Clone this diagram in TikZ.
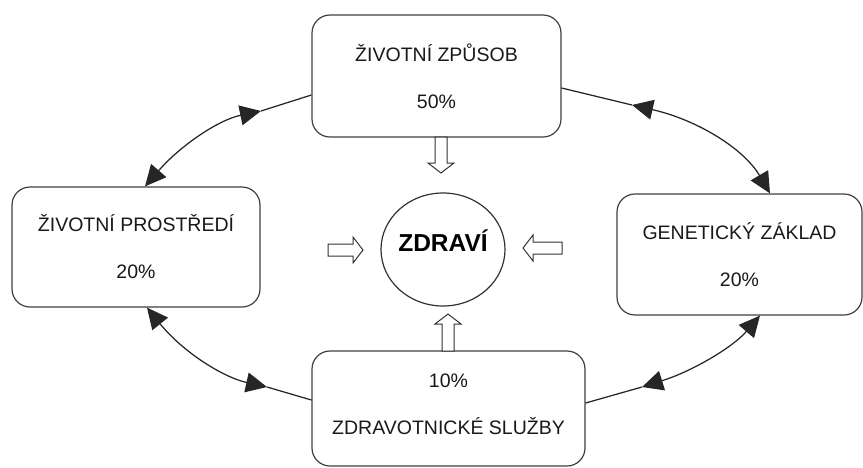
\documentclass[tikz,border=0pt]{standalone}
\usepackage{fontspec}
\setmainfont{Liberation Sans}
\usetikzlibrary{arrows.meta,shapes.geometric,calc}
\begin{document}
\begin{tikzpicture}[x=1pt,y=-1pt,
  box/.style={draw=black!75, line width=1.2pt, rounded corners=18pt, fill=white,
    align=center, font=\fontsize{19.5}{47}\selectfont, text=black!90, inner sep=0pt},
  conn/.style={line width=1.25pt, black!85},
  tips/.style={conn, {Triangle[length=21pt,width=20pt]}-{Triangle[length=21pt,width=20pt]}},
  hollow/.style={draw=black!80, line width=1pt, fill=white, line join=miter},
  hub/.style={draw=black!80, line width=1.2pt, ellipse, inner sep=0pt}
]
\useasboundingbox (0,0) rectangle (863,467);

% boxes
\node[box, minimum width=249pt, minimum height=122pt] (top) at (436.5,76) {ŽIVOTNÍ ZPŮSOB\\50\%};
\node[box, minimum width=248pt, minimum height=120pt] (left) at (136,247) {ŽIVOTNÍ PROSTŘEDÍ\\20\%};
\node[box, minimum width=245pt, minimum height=121pt] (right) at (739.5,254.5) {GENETICKÝ ZÁKLAD\\20\%};
\node[box, minimum width=273pt, minimum height=115pt] (bottom) at (448.5,408.5) {};
\node[align=center, font=\fontsize{19.5}{47}\selectfont, text=black!90, inner sep=0pt] (bottomtext) at (448.5,404) {10\%\\ZDRAVOTNICKÉ SLUŽBY};

% centre
\node[hub, minimum width=124pt, minimum height=113pt] (zdravi) at (443,249.5) {};
\node[font=\fontsize{24.5}{29}\selectfont\bfseries, inner sep=0pt] (zdravitext) at (443,241) {ZDRAVÍ};

% hollow arrows (tip, angle, length)
\newcommand\hollowarrow[3]{%
  \draw[hollow, shift={(#1)}, rotate=#2] (0,0) -- (-10,13) -- (-10,6) -- (-#3,6) -- (-#3,-6) -- (-10,-6) -- (-10,-13) -- cycle;}
\hollowarrow{441,173}{-90}{36}
\hollowarrow{448,314}{90}{37}
\hollowarrow{363,250}{0}{35}
\hollowarrow{523,248}{180}{39}

% connection points
\coordinate (p1) at (261,111);
\coordinate (p2) at (632,105);
\coordinate (p3) at (267,387);
\coordinate (p4) at (642,387);

% top-left
\draw[conn] ($(top.west)+(0,19)$) -- (p1);
\draw[tips] (p1) .. controls (218,120) and (180,146) .. ($(left.north)+(9,0)$);
% top-right
\draw[conn] ($(top.east)+(0,12)$) -- (p2);
\draw[tips] (p2) .. controls (698,120) and (744,149) .. ($(right.north)+(30.5,0)$);
% bottom-left
\draw[conn] ($(bottom.west)+(0,-8.5)$) -- (p3);
\draw[tips] (p3) .. controls (222,377) and (182,351) .. ($(left.south)+(11,0)$);
% bottom-right
\draw[conn] ($(bottom.east)+(0,-5.5)$) -- (p4);
\draw[tips] (p4) .. controls (693,371) and (733,347) .. ($(right.south)+(20.5,0)$);
\end{tikzpicture}
\end{document}
